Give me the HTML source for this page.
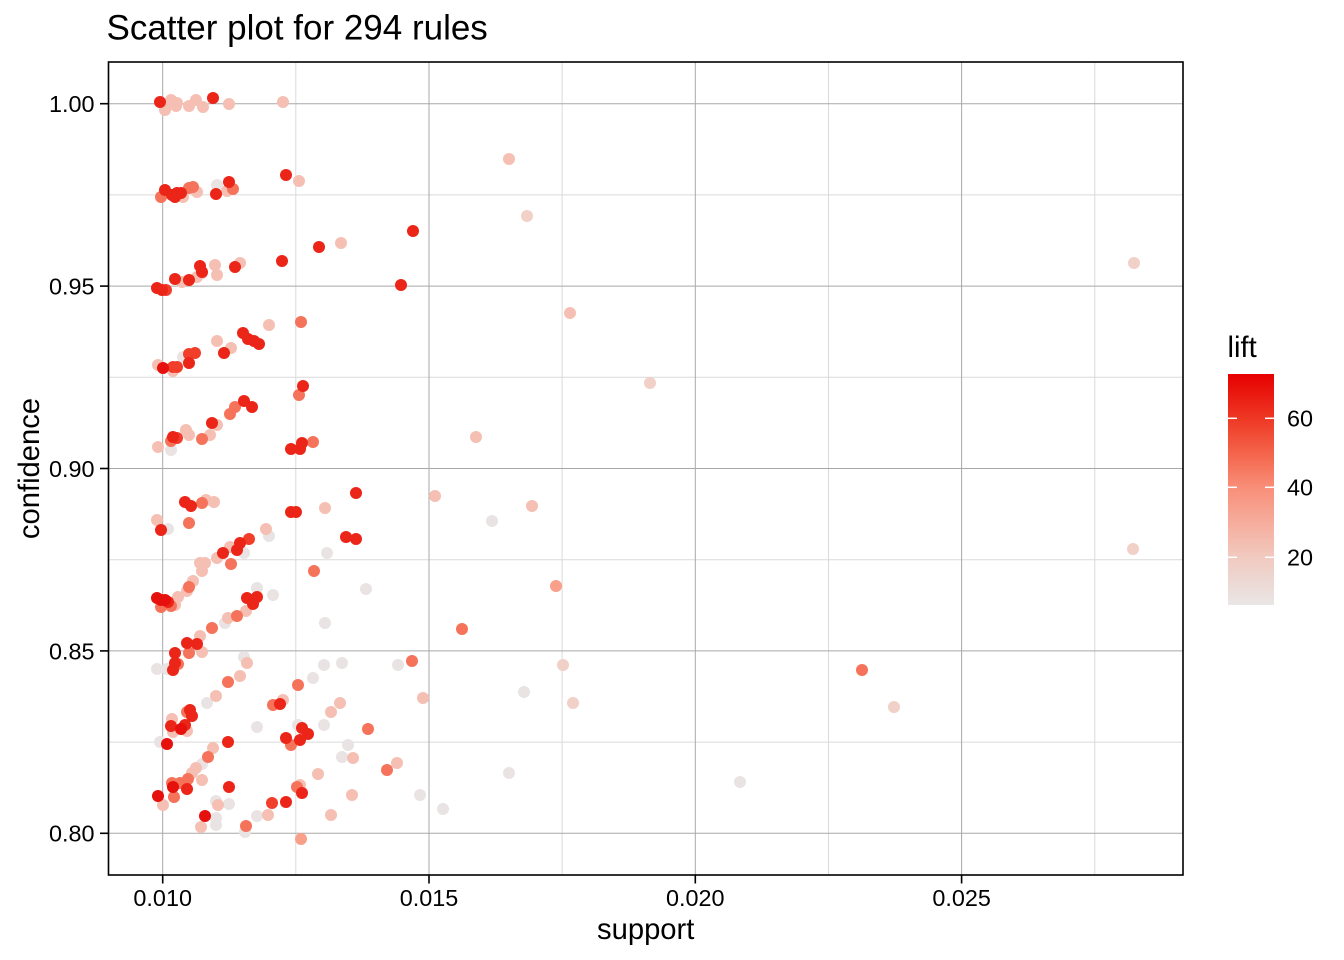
<!DOCTYPE html>
<html><head><meta charset="utf-8"><style>
html,body{margin:0;padding:0;background:#fff;}
svg{display:block;font-family:"Liberation Sans",Arial,sans-serif;}
.g{fill:#E9E4E3}.q{fill:#F1D0C8}.p{fill:#F5C0B3}.s{fill:#F9A08B}.o{fill:#F6735B}.r{fill:#F03E2B}.R{fill:#EC2519}.d{fill:#E6100C}
</style></head><body>
<svg width="1344" height="960" viewBox="0 0 1344 960" xmlns="http://www.w3.org/2000/svg">
<defs>
<linearGradient id="lg" x1="0" y1="0" x2="0" y2="1">
<stop offset="0" stop-color="#E60000"/>
<stop offset="0.2" stop-color="#EE3A25"/>
<stop offset="0.35" stop-color="#F4664D"/>
<stop offset="0.49" stop-color="#F88E78"/>
<stop offset="0.65" stop-color="#F6AE9E"/>
<stop offset="0.79" stop-color="#F1C9BF"/>
<stop offset="1" stop-color="#E9E6E6"/>
</linearGradient>
</defs>
<rect width="1344" height="960" fill="#fff"/>
<text x="106.5" y="39.5" font-size="35" fill="#000">Scatter plot for 294 rules</text>
<!-- minor grid -->
<g stroke="#dadada" stroke-width="1">
<line x1="108.5" x2="1183" y1="194.9" y2="194.9"/>
<line x1="108.5" x2="1183" y1="377.3" y2="377.3"/>
<line x1="108.5" x2="1183" y1="559.7" y2="559.7"/>
<line x1="108.5" x2="1183" y1="742.1" y2="742.1"/>
<line y1="62" y2="875" x1="295.8" x2="295.8"/>
<line y1="62" y2="875" x1="562.1" x2="562.1"/>
<line y1="62" y2="875" x1="828.5" x2="828.5"/>
<line y1="62" y2="875" x1="1094.8" x2="1094.8"/>
</g>
<!-- major grid -->
<g stroke="#a8a8a8" stroke-width="1">
<line x1="108.5" x2="1183" y1="103.7" y2="103.7"/>
<line x1="108.5" x2="1183" y1="286.1" y2="286.1"/>
<line x1="108.5" x2="1183" y1="468.5" y2="468.5"/>
<line x1="108.5" x2="1183" y1="650.9" y2="650.9"/>
<line x1="108.5" x2="1183" y1="833.3" y2="833.3"/>
<line y1="62" y2="875" x1="162.7" x2="162.7"/>
<line y1="62" y2="875" x1="429" x2="429"/>
<line y1="62" y2="875" x1="695.3" x2="695.3"/>
<line y1="62" y2="875" x1="961.6" x2="961.6"/>
</g>
<!-- points -->
<g>
<g class="g">
<circle cx="217" cy="185" r="6"/><circle cx="171" cy="450" r="6"/><circle cx="327" cy="553" r="6"/><circle cx="366" cy="589" r="6"/><circle cx="244" cy="553" r="6"/><circle cx="269" cy="536" r="6"/><circle cx="257" cy="588" r="6"/><circle cx="273" cy="595" r="6"/><circle cx="225" cy="623" r="6"/><circle cx="157" cy="669" r="6"/><circle cx="167" cy="669" r="6"/><circle cx="244" cy="657" r="6"/><circle cx="313" cy="678" r="6"/><circle cx="324" cy="665" r="6"/><circle cx="342" cy="663" r="6"/><circle cx="398" cy="665" r="6"/><circle cx="325" cy="623" r="6"/><circle cx="207" cy="703" r="6"/><circle cx="257" cy="727" r="6"/><circle cx="324" cy="725" r="6"/><circle cx="298" cy="725" r="6"/><circle cx="348" cy="745" r="6"/><circle cx="342" cy="757" r="6"/><circle cx="160" cy="742" r="6"/><circle cx="202" cy="764" r="6"/><circle cx="216" cy="801" r="6"/><circle cx="229" cy="804" r="6"/><circle cx="257" cy="816" r="6"/><circle cx="216" cy="818" r="6"/><circle cx="216" cy="825" r="6"/><circle cx="245" cy="832" r="6"/><circle cx="420" cy="795" r="6"/><circle cx="443" cy="809" r="6"/><circle cx="509" cy="773" r="6"/><circle cx="740" cy="782" r="6"/><circle cx="524" cy="692" r="6"/><circle cx="492" cy="521" r="6"/><circle cx="183" cy="357" r="6"/><circle cx="168" cy="529" r="6"/>
</g>
<g class="q">
<circle cx="650" cy="383" r="6"/><circle cx="527" cy="216" r="6"/><circle cx="563" cy="665" r="6"/><circle cx="894" cy="707" r="6"/><circle cx="1134" cy="263" r="6"/><circle cx="1133" cy="549" r="6"/><circle cx="573" cy="703" r="6"/>
</g>
<g class="p">
<circle cx="171" cy="100" r="6"/><circle cx="165" cy="110" r="6"/><circle cx="176" cy="106" r="6"/><circle cx="177" cy="103" r="6"/><circle cx="189" cy="106" r="6"/><circle cx="196" cy="100" r="6"/><circle cx="203" cy="107" r="6"/><circle cx="229" cy="104" r="6"/><circle cx="283" cy="102" r="6"/><circle cx="168" cy="104" r="6"/>
<circle cx="299" cy="181" r="6"/><circle cx="183" cy="197" r="6"/><circle cx="197" cy="192" r="6"/><circle cx="227" cy="191" r="6"/>
<circle cx="341" cy="243" r="6"/><circle cx="215" cy="265" r="6"/><circle cx="217" cy="275" r="6"/><circle cx="182" cy="282" r="6"/><circle cx="197" cy="277" r="6"/><circle cx="202" cy="273" r="6"/><circle cx="240" cy="263" r="6"/>
<circle cx="269" cy="325" r="6"/><circle cx="217" cy="341" r="6"/><circle cx="231" cy="348" r="6"/><circle cx="158" cy="365" r="6"/><circle cx="173" cy="371" r="6"/>
<circle cx="217" cy="425" r="6"/><circle cx="186" cy="430" r="6"/><circle cx="189" cy="435" r="6"/><circle cx="210" cy="435" r="6"/><circle cx="158" cy="447" r="6"/>
<circle cx="476" cy="437" r="6"/><circle cx="435" cy="496" r="6"/><circle cx="532" cy="506" r="6"/><circle cx="509" cy="159" r="6"/><circle cx="570" cy="313" r="6"/>
<circle cx="206" cy="500" r="6"/><circle cx="214" cy="502" r="6"/><circle cx="325" cy="508" r="6"/><circle cx="157" cy="520" r="6"/><circle cx="266" cy="529" r="6"/><circle cx="230" cy="547" r="6"/><circle cx="217" cy="558" r="6"/><circle cx="200" cy="563" r="6"/><circle cx="205" cy="563" r="6"/><circle cx="202" cy="571" r="6"/><circle cx="193" cy="581" r="6"/><circle cx="187" cy="591" r="6"/><circle cx="178" cy="597" r="6"/><circle cx="175" cy="605" r="6"/>
<circle cx="246" cy="611" r="6"/><circle cx="228" cy="618" r="6"/><circle cx="200" cy="636" r="6"/><circle cx="202" cy="652" r="6"/><circle cx="247" cy="663" r="6"/><circle cx="240" cy="676" r="6"/>
<circle cx="216" cy="696" r="6"/><circle cx="283" cy="700" r="6"/><circle cx="172" cy="719" r="6"/><circle cx="187" cy="731" r="6"/><circle cx="173" cy="732" r="6"/><circle cx="331" cy="712" r="6"/><circle cx="340" cy="703" r="6"/><circle cx="423" cy="698" r="6"/><circle cx="353" cy="758" r="6"/><circle cx="213" cy="748" r="6"/><circle cx="196" cy="768" r="6"/><circle cx="192" cy="773" r="6"/><circle cx="202" cy="780" r="6"/><circle cx="318" cy="774" r="6"/><circle cx="397" cy="763" r="6"/><circle cx="300" cy="785" r="6"/><circle cx="352" cy="795" r="6"/><circle cx="163" cy="805" r="6"/><circle cx="218" cy="805" r="6"/><circle cx="268" cy="815" r="6"/><circle cx="331" cy="815" r="6"/><circle cx="201" cy="827" r="6"/>
</g>
<g class="s">
<circle cx="556" cy="586" r="6"/><circle cx="301" cy="839" r="6"/>
</g>
<g class="o">
<circle cx="161" cy="197" r="6"/><circle cx="189" cy="188" r="6"/><circle cx="193" cy="187" r="6"/><circle cx="233" cy="189" r="6"/><circle cx="301" cy="322" r="6"/><circle cx="299" cy="395" r="6"/><circle cx="235" cy="407" r="6"/><circle cx="230" cy="414" r="6"/><circle cx="202" cy="439" r="6"/><circle cx="171" cy="441" r="6"/><circle cx="313" cy="442" r="6"/><circle cx="202" cy="503" r="6"/><circle cx="189" cy="523" r="6"/><circle cx="231" cy="564" r="6"/><circle cx="314" cy="571" r="6"/><circle cx="189" cy="587" r="6"/><circle cx="161" cy="607" r="6"/><circle cx="171" cy="606" r="6"/><circle cx="237" cy="616" r="6"/><circle cx="212" cy="628" r="6"/><circle cx="189" cy="653" r="6"/><circle cx="178" cy="664" r="6"/><circle cx="228" cy="682" r="6"/><circle cx="298" cy="685" r="6"/><circle cx="412" cy="661" r="6"/><circle cx="462" cy="629" r="6"/><circle cx="187" cy="712" r="6"/><circle cx="273" cy="705" r="6"/><circle cx="368" cy="729" r="6"/><circle cx="291" cy="745" r="6"/><circle cx="208" cy="757" r="6"/><circle cx="188" cy="779" r="6"/><circle cx="172" cy="783" r="6"/><circle cx="180" cy="783" r="6"/><circle cx="174" cy="797" r="6"/><circle cx="297" cy="787" r="6"/><circle cx="387" cy="770" r="6"/><circle cx="246" cy="826" r="6"/><circle cx="862" cy="670" r="6"/>
</g>
<g class="r">
<circle cx="166" cy="290" r="6"/><circle cx="189" cy="354" r="6"/><circle cx="195" cy="353" r="6"/><circle cx="173" cy="367" r="6"/><circle cx="177" cy="367" r="6"/><circle cx="177" cy="438" r="6"/><circle cx="249" cy="539" r="6"/><circle cx="272" cy="803" r="6"/>
</g>
<g class="R">
<circle cx="160" cy="102" r="6"/><circle cx="213" cy="98" r="6"/>
<circle cx="286" cy="175" r="6"/><circle cx="165" cy="190" r="6"/><circle cx="175" cy="197" r="6"/><circle cx="177" cy="193" r="6"/><circle cx="181" cy="193" r="6"/><circle cx="172" cy="195" r="6"/><circle cx="216" cy="194" r="6"/><circle cx="229" cy="182" r="6"/>
<circle cx="413" cy="231" r="6"/><circle cx="319" cy="247" r="6"/><circle cx="282" cy="261" r="6"/><circle cx="401" cy="285" r="6"/><circle cx="200" cy="266" r="6"/><circle cx="202" cy="272" r="6"/><circle cx="175" cy="279" r="6"/><circle cx="189" cy="280" r="6"/><circle cx="157" cy="288" r="6"/><circle cx="162" cy="290" r="6"/><circle cx="235" cy="267" r="6"/>
<circle cx="243" cy="333" r="6"/><circle cx="248" cy="339" r="6"/><circle cx="254" cy="341" r="6"/><circle cx="259" cy="344" r="6"/><circle cx="224" cy="353" r="6"/><circle cx="189" cy="363" r="6"/>
<circle cx="303" cy="386" r="6"/><circle cx="244" cy="401" r="6"/><circle cx="252" cy="407" r="6"/><circle cx="212" cy="423" r="6"/><circle cx="173" cy="437" r="6"/><circle cx="291" cy="449" r="6"/><circle cx="300" cy="449" r="6"/><circle cx="302" cy="443" r="6"/>
<circle cx="185" cy="502" r="6"/><circle cx="191" cy="506" r="6"/><circle cx="291" cy="512" r="6"/><circle cx="296" cy="512" r="6"/><circle cx="356" cy="493" r="6"/><circle cx="161" cy="530" r="6"/><circle cx="240" cy="543" r="6"/><circle cx="237" cy="550" r="6"/><circle cx="223" cy="553" r="6"/><circle cx="346" cy="537" r="6"/><circle cx="356" cy="539" r="6"/>
<circle cx="168" cy="602" r="6"/><circle cx="247" cy="598" r="6"/><circle cx="257" cy="597" r="6"/><circle cx="253" cy="604" r="6"/>
<circle cx="187" cy="643" r="6"/><circle cx="197" cy="644" r="6"/><circle cx="175" cy="653" r="6"/><circle cx="175" cy="663" r="6"/><circle cx="173" cy="670" r="6"/>
<circle cx="190" cy="710" r="6"/><circle cx="192" cy="716" r="6"/><circle cx="171" cy="726" r="6"/><circle cx="185" cy="725" r="6"/><circle cx="280" cy="704" r="6"/><circle cx="302" cy="728" r="6"/><circle cx="308" cy="734" r="6"/><circle cx="300" cy="740" r="6"/><circle cx="286" cy="738" r="6"/><circle cx="228" cy="742" r="6"/>
<circle cx="187" cy="789" r="6"/><circle cx="229" cy="787" r="6"/><circle cx="302" cy="793" r="6"/><circle cx="286" cy="802" r="6"/>
</g>
<g class="d">
<circle cx="163" cy="368" r="6"/><circle cx="157" cy="598" r="6"/><circle cx="161" cy="600" r="6"/><circle cx="165" cy="600" r="6"/><circle cx="181" cy="729" r="6"/><circle cx="167" cy="744" r="6"/><circle cx="173" cy="787" r="6"/><circle cx="158" cy="796" r="6"/><circle cx="205" cy="816" r="6"/>
</g>
</g>
<!-- panel border -->
<rect x="108.5" y="62" width="1074.5" height="813" fill="none" stroke="#000" stroke-width="1.6"/>
<!-- ticks -->
<g stroke="#000" stroke-width="1.6">
<line x1="100" x2="108.5" y1="103.7" y2="103.7"/>
<line x1="100" x2="108.5" y1="286.1" y2="286.1"/>
<line x1="100" x2="108.5" y1="468.5" y2="468.5"/>
<line x1="100" x2="108.5" y1="650.9" y2="650.9"/>
<line x1="100" x2="108.5" y1="833.3" y2="833.3"/>
<line y1="875" y2="883.5" x1="162.7" x2="162.7"/>
<line y1="875" y2="883.5" x1="429" x2="429"/>
<line y1="875" y2="883.5" x1="695.3" x2="695.3"/>
<line y1="875" y2="883.5" x1="961.6" x2="961.6"/>
</g>
<g font-size="23.4" fill="#000">
<g text-anchor="end">
<text x="94.5" y="112">1.00</text>
<text x="94.5" y="294.5">0.95</text>
<text x="94.5" y="477">0.90</text>
<text x="94.5" y="659.3">0.85</text>
<text x="94.5" y="841.7">0.80</text>
</g>
<g text-anchor="middle">
<text x="162.7" y="905.8">0.010</text>
<text x="429" y="905.8">0.015</text>
<text x="695.3" y="905.8">0.020</text>
<text x="961.6" y="905.8">0.025</text>
</g>
</g>
<text x="645.7" y="939" font-size="29.2" text-anchor="middle" fill="#000">support</text>
<text transform="translate(39,468.5) rotate(-90)" font-size="29.2" text-anchor="middle" fill="#000">confidence</text>
<!-- legend -->
<text x="1227.5" y="357" font-size="29.2" fill="#000">lift</text>
<rect x="1228" y="374" width="46" height="231" fill="url(#lg)"/>
<g stroke="#fff" stroke-width="1.5">
<line x1="1228" x2="1237" y1="418.3" y2="418.3"/><line x1="1265" x2="1274" y1="418.3" y2="418.3"/>
<line x1="1228" x2="1237" y1="487.3" y2="487.3"/><line x1="1265" x2="1274" y1="487.3" y2="487.3"/>
<line x1="1228" x2="1237" y1="557.3" y2="557.3"/><line x1="1265" x2="1274" y1="557.3" y2="557.3"/>
</g>
<g font-size="23.4" fill="#000">
<text x="1287" y="426.7">60</text>
<text x="1287" y="495.7">40</text>
<text x="1287" y="565.7">20</text>
</g>
</svg>
</body></html>
